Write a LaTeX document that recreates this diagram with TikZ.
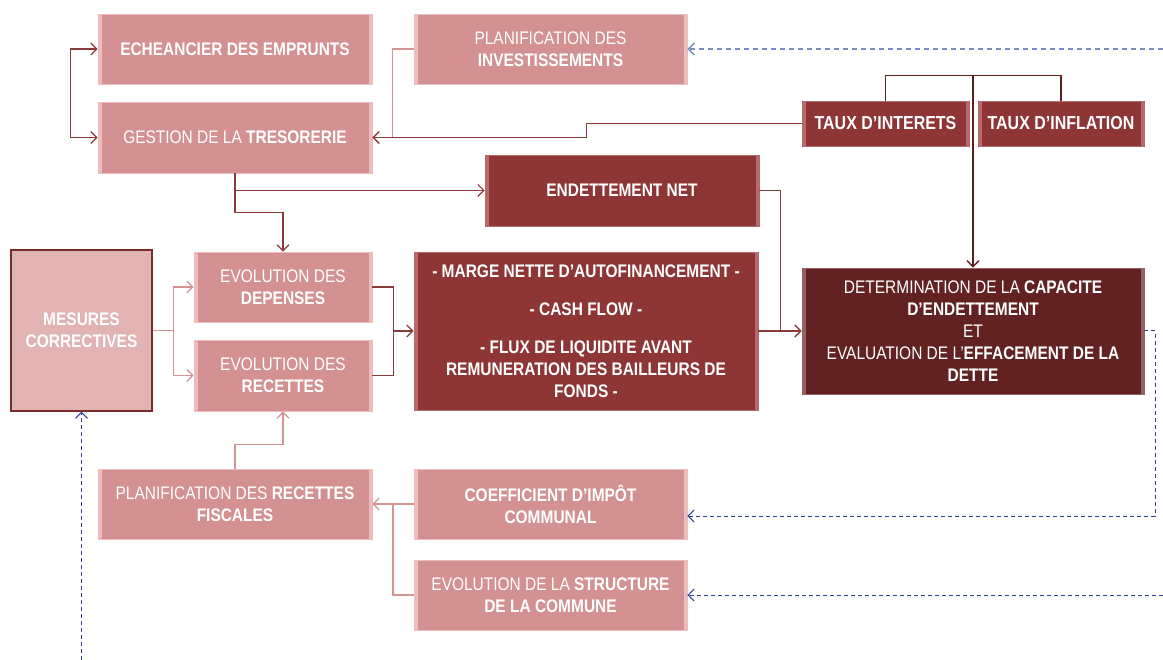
\documentclass[tikz,border=0pt]{standalone}
\usepackage{fontspec}
\setmainfont{Liberation Sans}[FakeStretch=0.85]
\usetikzlibrary{arrows.meta}
\definecolor{lfill}{HTML}{D39191}
\definecolor{ledge}{HTML}{EDBDBD}
\definecolor{dfill}{HTML}{8E3535}
\definecolor{dedge}{HTML}{B86A6A}
\definecolor{xfill}{HTML}{632222}
\definecolor{xedge}{HTML}{946262}
\definecolor{mfill}{HTML}{E1B3B3}
\definecolor{medge}{HTML}{7B2B2B}
\definecolor{cdark}{HTML}{8B3A3A}
\definecolor{cpink}{HTML}{D49494}
\definecolor{ctaux}{HTML}{5E1F1F}
\definecolor{cblue}{HTML}{2E3F96}
\definecolor{cblue2}{HTML}{7B8CC4}
\tikzset{
  basebox/.style={rectangle, inner sep=0pt, text=white, align=center,
    font=\fontsize{18.2}{22}\selectfont},
  bev/.style={path picture={
    \fill[#1] (path picture bounding box.north west) rectangle ([xshift=3.5pt]path picture bounding box.south west);
    \fill[#1] (path picture bounding box.north east) rectangle ([xshift=-3.5pt]path picture bounding box.south east);}},
  lbox/.style={basebox, fill=lfill, draw=ledge, line width=0.9pt, bev=ledge},
  dbox/.style={basebox, fill=dfill, draw=dedge, line width=0.9pt, bev=dedge},
  xbox/.style={basebox, fill=xfill, draw=xedge, line width=0.9pt, bev=xedge},
  mbox/.style={basebox, fill=mfill, draw=medge, line width=1.2pt},
  arr/.style={-{Straight Barb[length=6pt,width=12pt]}},
  darr/.style={{Straight Barb[length=6pt,width=12pt]}-{Straight Barb[length=6pt,width=12pt]}},
  cd/.style={draw=cdark, line width=1.1pt},
  cp/.style={draw=cpink, line width=1.1pt},
  ct/.style={draw=ctaux, line width=1.3pt},
  cb/.style={draw=cblue, line width=1pt, dash pattern=on 4pt off 3pt},
  cb2/.style={draw=cblue2, line width=1.3pt, dash pattern=on 5pt off 4pt},
}
\begin{document}
\begin{tikzpicture}[x=1pt,y=-1pt]
\useasboundingbox (0,0) rectangle (1163,660);

\node[lbox, minimum width=274pt, minimum height=70pt] (ech) at (235,49) {\bfseries ECHEANCIER DES EMPRUNTS};
\node[lbox, minimum width=274pt, minimum height=71pt] (ges) at (235,137.5) {GESTION DE LA \textbf{TRESORERIE}};
\node[lbox, minimum width=273pt, minimum height=70pt] (pinv) at (550.5,49) {PLANIFICATION DES\\ \textbf{INVESTISSEMENTS}};
\node[dbox, minimum width=274pt, minimum height=71pt] (endn) at (622,190.5) {\bfseries ENDETTEMENT NET};
\node[dbox, minimum width=167pt, minimum height=45pt, font=\fontsize{18.8}{22}\selectfont] (tint) at (885.5,123.5) {\bfseries TAUX D’INTERETS};
\node[dbox, minimum width=166pt, minimum height=45pt, font=\fontsize{18.8}{22}\selectfont] (tinf) at (1061,123.5) {\bfseries TAUX D’INFLATION};
\node[mbox, minimum width=141pt, minimum height=161pt] (mes) at (81.5,330.5) {\bfseries MESURES\\ \bfseries CORRECTIVES};
\node[lbox, minimum width=178pt, minimum height=70pt] (dep) at (283,287) {EVOLUTION DES\\ \textbf{DEPENSES}};
\node[lbox, minimum width=178pt, minimum height=71pt] (rec) at (283,375.5) {EVOLUTION DES\\ \textbf{RECETTES}};
\node[dbox, minimum width=344pt, minimum height=158pt] (big) at (586,331) {\bfseries - MARGE NETTE D’AUTOFINANCEMENT -\\[16pt] \bfseries - CASH FLOW -\\[16pt] \bfseries - FLUX DE LIQUIDITE AVANT\\ \bfseries REMUNERATION DES BAILLEURS DE\\ \bfseries FONDS -};
\node[xbox, minimum width=342pt, minimum height=126pt] (det) at (973,331) {DETERMINATION DE LA \textbf{CAPACITE}\\ \textbf{D’ENDETTEMENT}\\ ET\\ EVALUATION DE L’\textbf{EFFACEMENT DE LA}\\ \textbf{DETTE}};
\node[lbox, minimum width=274pt, minimum height=70pt] (prf) at (235,504) {PLANIFICATION DES \textbf{RECETTES}\\ \textbf{FISCALES}};
\node[lbox, minimum width=273pt, minimum height=70pt] (coef) at (550.5,504) {\bfseries COEFFICIENT D’IMPÔT\\ \bfseries COMMUNAL};
\node[lbox, minimum width=273pt, minimum height=70pt] (str) at (550.5,595) {EVOLUTION DE LA \textbf{STRUCTURE}\\ \textbf{DE LA COMMUNE}};

% solid connectors
\draw[cd, darr] (ech.west) -- ++(-27,0) |- (ges.west);
\draw[cp, arr] (pinv.west) -- ++(-21,0) |- (ges.east);
\draw[cd, arr] (tint.west) -- ++(-215,0) -- ++(0,14) -- (ges.east);
\draw[cd, arr] (ges.south) |- (endn.west);
\draw[cd, arr] (ges.south) -- ++(0,39) -| (dep.north);
\draw[cd, arr] (endn.east) -- ++(21,0) |- (det.west);
\draw[cd, arr] (big.east) -- (det.west);
\coordinate (tj) at (973,76);
\draw[ct] (tint.north) -- ++(0,-25) -| (tinf.north);
\draw[ct, arr] (tj) -- (det.north);
\draw[cd] (dep.east) -- ++(21,0) |- (rec.east);
\coordinate (dj) at (393,331);
\draw[cd, arr] (dj) -- (big.west);
\draw[cp, arr] (mes.east) -- ++(21,0) |- (dep.west);
\draw[cp, arr] (mes.east) -- ++(21,0) |- (rec.west);
\draw[cp, arr] (prf.north) -- ++(0,-24) -| (rec.south);
\draw[cp, arr] (coef.west) -- (prf.east);
\draw[cp] (str.west) -| (393,504);

% dashed feedback
\coordinate (r1) at (1163,49);
\draw[cb2, arr] (r1) -- (pinv.east);
\draw[cb, arr] (det.east) -- ++(11,0) |- ([yshift=-12pt]coef.east);
\coordinate (r2) at (1163,595);
\draw[cb, arr] (r2) -- (str.east);
\coordinate (b1) at (81.5,660);
\draw[cb, arr] (b1) -- (mes.south);
\end{tikzpicture}
\end{document}
